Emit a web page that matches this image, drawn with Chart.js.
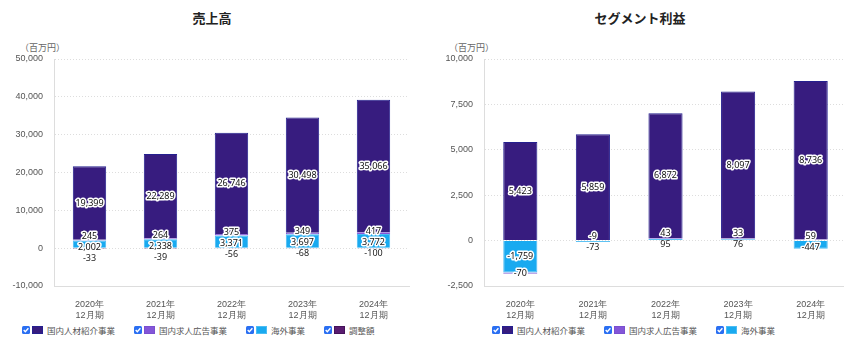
<!DOCTYPE html>
<html>
<head>
<meta charset="utf-8">
<script src="https://cdn.jsdelivr.net/npm/chart.js@4"></script>
<style>
  body { margin: 0; width: 844px; height: 344px; overflow: hidden; background: #fff; position: relative;
         font-family: "Noto Sans CJK JP", "Noto Sans", sans-serif; }
  .title { position: absolute; top: 8px; font-size: 13px; font-weight: bold; color: #222; text-align: center; }
  .unit { position: absolute; top: 41px; font-size: 9px; color: #666; }
  canvas { position: absolute; top: 0; }
  .legend { position: absolute; top: 324px; display: flex; gap: 19px; align-items: center; font-size: 8.5px; color: #555; }
  .legend .item { display: flex; align-items: center; white-space: nowrap; }
  .legend svg { display: block; margin-right: 2px; }
  .legend .sw { width: 9px; height: 6px; margin-right: 4px; border: 1px solid; }
</style>
</head>
<body>
<div class="title" style="left:0;width:424px">売上高</div>
<div class="title" style="left:430px;width:420px">セグメント利益</div>
<div class="unit" style="left:20px">（百万円）</div>
<div class="unit" style="left:449px">（百万円）</div>
<canvas id="salesChart" width="422" height="320" style="left:0"></canvas>
<canvas id="profitChart" width="417" height="320" style="left:430px"></canvas>
<div class="legend" id="salesLegend" style="left:22px"></div>
<div class="legend" id="profitLegend" style="left:492px"></div>

<script>
// ---------- data ----------
const years = [["2020年", "12月期"], ["2021年", "12月期"], ["2022年", "12月期"], ["2023年", "12月期"], ["2024年", "12月期"]];

// 売上高
const salesJinzai  = [19399, 22289, 26746, 30498, 35066];
const salesKyujin  = [245, 264, 375, 349, 417];
const salesKaigai  = [2002, 2338, 3371, 3697, 3772];
const salesChosei  = [-33, -39, -56, -68, -100];

// セグメント利益
const profitJinzai = [5423, 5859, 6872, 8097, 8736];
const profitKyujin = [-70, -9, 43, 33, 59];
const profitKaigai = [-1759, -73, 95, 76, -447];

const salesTicks  = { min: -10000, max: 50000, step: 10000 };
const profitTicks = { min: -2500, max: 10000, step: 2500 };

// ---------- styles ----------
const NAMES = { jinzai: "国内人材紹介事業", kyujin: "国内求人広告事業", kaigai: "海外事業", chosei: "調整額" };
const COLORS = {
  jinzai: { fill: "#371c7f", border: "#25208f" },
  kyujin: { fill: "#8456d8", border: "#7a4fd0" },
  kaigai: { fill: "#19aaf0", border: "#4cbcf3" },
  chosei: { fill: "#5a1c70", border: "#45125a" }
};

function ds(key, data) {
  return {
    label: NAMES[key],
    data: data,
    backgroundColor: COLORS[key].fill,
    borderColor: COLORS[key].border,
    borderWidth: 1,
    key: key
  };
}

// value labels, stacked from top to bottom with simple overlap pushing
const segLabels = {
  id: "segLabels",
  afterDatasetsDraw(chart) {
    const ctx = chart.ctx;
    const order = chart.options.plugins.segLabels.order;
    const H = 11;
    ctx.save();
    ctx.font = "9px 'Noto Sans', sans-serif";
    ctx.textAlign = "center";
    ctx.textBaseline = "middle";
    ctx.lineJoin = "round";
    for (let i = 0; i < chart.data.labels.length; i++) {
      let items = [];
      let top = Infinity, bottom = -Infinity;
      order.forEach(di => {
        const el = chart.getDatasetMeta(di).data[i];
        const v = chart.data.datasets[di].data[i];
        top = Math.min(top, el.y, el.base);
        bottom = Math.max(bottom, el.y, el.base);
        items.push({ v: v, x: el.x, y: (el.y + el.base) / 2, moved: false });
      });
      for (let k = 1; k < items.length; k++) {
        const a = items[k - 1], b = items[k];
        if (Math.abs(b.y - a.y) < H) {
          if (a.moved) {
            b.y = a.y + H;
          } else {
            const m = (a.y + b.y) / 2;
            a.y = m - H / 2;
            b.y = m + H / 2;
            a.moved = true;
          }
          b.moved = true;
        }
      }
      items.forEach(it => {
        const txt = it.v.toLocaleString("en-US");
        if (it.y >= top - 1 && it.y <= bottom + 1) {
          ctx.lineWidth = 3;
          ctx.strokeStyle = "#fff";
          ctx.strokeText(txt, it.x, it.y);
          ctx.fillStyle = "#111";
          ctx.fillText(txt, it.x, it.y);
        } else {
          ctx.fillStyle = "#222";
          ctx.fillText(txt, it.x, it.y);
        }
      });
    }
    ctx.restore();
  }
};

function makeChart(id, datasets, t, order, padRight) {
  return new Chart(document.getElementById(id), {
    type: "bar",
    data: { labels: years, datasets: datasets },
    options: {
      responsive: false,
      animation: false,
      layout: { padding: { top: 59, right: padRight, left: 0, bottom: 0 } },
      datasets: { bar: { categoryPercentage: 1, barPercentage: 0.47 } },
      plugins: {
        legend: { display: false },
        tooltip: { enabled: false },
        segLabels: { order: order }
      },
      scales: {
        x: {
          stacked: true,
          grid: { display: false },
          border: { color: "#ddd" },
          ticks: { color: "#555", font: { size: 9, lineHeight: 1.2 }, padding: 5, maxRotation: 0 },
          afterFit(s) { s.height = 34; }
        },
        y: {
          stacked: true,
          min: t.min,
          max: t.max,
          ticks: { stepSize: t.step, color: "#555", font: { size: 9 }, padding: 11 },
          grid: { color: "#ddd", drawTicks: false },
          border: { color: "#ddd", dash: [1, 2] },
          afterFit(s) { s.width = 54; }
        }
      }
    },
    plugins: [segLabels]
  });
}

// stack order: bottom first
makeChart("salesChart",
  [ds("kaigai", salesKaigai), ds("kyujin", salesKyujin), ds("jinzai", salesJinzai), ds("chosei", salesChosei)],
  salesTicks, [2, 1, 0, 3], 13);

makeChart("profitChart",
  [ds("kaigai", profitKaigai), ds("kyujin", profitKyujin), ds("jinzai", profitJinzai)],
  profitTicks, [2, 1, 0], 0);

// ---------- html legends ----------
function buildLegend(id, keys) {
  const box = document.getElementById(id);
  keys.forEach(k => {
    const item = document.createElement("div");
    item.className = "item";
    item.innerHTML =
      '<svg width="8" height="8" viewBox="0 0 8 8"><rect width="8" height="8" rx="1.5" fill="#2a6ff2"/>' +
      '<path d="M1.7 4.1 L3.3 5.7 L6.4 2.3" stroke="#fff" stroke-width="1.4" fill="none"/></svg>' +
      '<span class="sw" style="background:' + COLORS[k].fill + ';border-color:' + COLORS[k].border + '"></span>' +
      '<span>' + NAMES[k] + '</span>';
    box.appendChild(item);
  });
}
buildLegend("salesLegend", ["jinzai", "kyujin", "kaigai", "chosei"]);
buildLegend("profitLegend", ["jinzai", "kyujin", "kaigai"]);
</script>
</body>
</html>
